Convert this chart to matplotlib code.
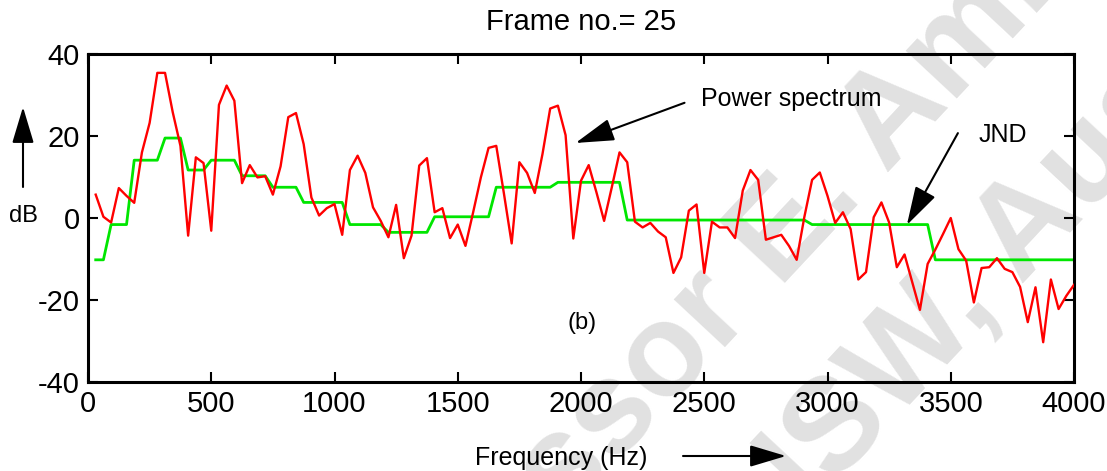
import numpy as np
import matplotlib.pyplot as plt
from matplotlib.patches import FancyArrowPatch

FREQ_STEP = 31.25  # Hz per bin, 128 bins up to 4 kHz

# power spectrum (dB), bins 1..128
power_db = [
    5.7, 0.3, -1.1, 7.3, 5.4, 3.7, 16.0, 23.2, 35.4, 35.4,
    25.8, 17.6, -4.3, 14.8, 13.4, -3.1, 27.6, 32.3, 28.6, 8.5,
    12.9, 9.9, 10.2, 5.7, 12.6, 24.6, 25.6, 18.0, 5.0, 0.6,
    2.4, 3.4, -4.1, 11.7, 15.2, 11.0, 2.6, -0.7, -4.7, 3.2,
    -9.8, -4.3, 12.8, 14.6, 1.4, 2.4, -4.9, -1.6, -6.8, 1.4,
    9.9, 17.1, 17.6, 5.9, -6.2, 13.6, 11.0, 6.1, 15.6, 26.7,
    27.4, 20.2, -5.0, 9.1, 12.9, 6.3, -0.7, 7.5, 16.0, 13.6,
    -0.9, -2.3, -1.2, -3.3, -4.7, -13.4, -9.6, 1.8, 3.3, -13.4,
    -0.9, -2.3, -2.3, -4.9, 6.7, 11.7, 9.3, -5.3, -4.7, -4.1,
    -6.8, -10.2, 0.3, 9.3, 11.1, 5.4, -1.2, 1.4, -2.7, -15.0,
    -13.2, 0.2, 3.8, -1.1, -12.0, -8.9, -15.7, -22.4, -11.2, -7.7,
    -3.9, 0.0, -7.6, -10.4, -20.6, -12.2, -12.0, -9.8, -12.4, -13.2,
    -16.8, -25.4, -16.9, -30.3, -15.0, -22.2, -19.0, -16.3,
]

# JND threshold: step levels (dB) and how many bins each lasts
jnd_levels = [-10.2, -1.6, 14.1, 19.5, 11.7, 14.1, 10.3, 7.5, 3.8,
              -1.6, -3.5, 0.3, 7.5, 8.7, -0.5, -1.6, -10.2]
jnd_bins = [2, 3, 4, 3, 3, 4, 4, 4, 6, 5, 6, 8, 8, 9, 24, 16, 19]

x_ticks = [0, 500, 1000, 1500, 2000, 2500, 3000, 3500, 4000]
y_ticks = [-40, -20, 0, 20, 40]

freqs = FREQ_STEP * np.arange(1, len(power_db) + 1)
jnd_db = np.repeat(jnd_levels, jnd_bins)

plt.rcParams['font.family'] = ['Liberation Sans', 'DejaVu Sans']
plt.rcParams['axes.unicode_minus'] = False

W, H = 1107, 471
fig = plt.figure(figsize=(W / 100, H / 100), dpi=100)
ax = fig.add_axes([88 / W, 1 - 382 / H, 986 / W, 328 / H])
ax.set_facecolor('none')

# faint watermark behind the plot
wm = dict(color='#e1e1e1', fontsize=95, fontweight='bold', rotation=47,
          rotation_mode='anchor', ha='center', va='center', zorder=-5)
fig.text(868 / W, 1 - 144 / H, "Professor E. Ambikairajah", **wm)
fig.text(1030 / W, 1 - 225 / H, "UNSW, Australia", **wm)

ax.plot(freqs, power_db, color='#ff0000', lw=1.7, zorder=3)
ax.plot(freqs, jnd_db, color='#00e600', lw=2.0, zorder=2)

ax.set_xlim(0, 4000)
ax.set_ylim(-40, 40)
ax.set_xticks(x_ticks)
ax.set_yticks(y_ticks)
ax.tick_params(direction='in', top=True, right=True, length=7, width=1.5,
               labelsize=21, pad=6)
for s in ax.spines.values():
    s.set_linewidth(2.2)

ax.set_title("Frame no.= 25", fontsize=21, pad=17)

# annotations
head = '-|>,head_length=1.2,head_width=0.35'
ax.annotate("", xy=(1978, 18.3), xytext=(2420, 28.1),
            arrowprops=dict(arrowstyle=head, color='black', lw=1.5,
                            mutation_scale=20, shrinkA=0, shrinkB=0))
ax.text(2485, 29.0, "Power spectrum", fontsize=18, va='center')
ax.annotate("", xy=(3322, -1.7), xytext=(3529, 20.7),
            arrowprops=dict(arrowstyle=head, color='black', lw=1.5,
                            mutation_scale=20, shrinkA=0, shrinkB=0))
ax.text(3612, 20.3, "JND", fontsize=18, va='center')
ax.text(2006, -25.5, "(b)", fontsize=17, ha='center', va='center')

# axis labels with direction arrows
fig.text(23 / W, 1 - 216 / H, "dB", fontsize=17, ha='center', va='center')
fig.text(561 / W, 1 - 458 / H, "Frequency (Hz)", fontsize=18,
         ha='center', va='center')
fig.add_artist(FancyArrowPatch(
    (23 / W, 1 - 187 / H), (23 / W, 1 - 107 / H),
    transform=fig.transFigure, arrowstyle='-|>,head_length=1.5,head_width=0.45',
    color='black', lw=1.5, mutation_scale=15, shrinkA=0, shrinkB=0))
fig.add_artist(FancyArrowPatch(
    (683 / W, 1 - 456 / H), (786 / W, 1 - 456 / H),
    transform=fig.transFigure, arrowstyle='-|>,head_length=1.5,head_width=0.45',
    color='black', lw=1.5, mutation_scale=15, shrinkA=0, shrinkB=0))

fig.savefig("out.png", dpi=100)
